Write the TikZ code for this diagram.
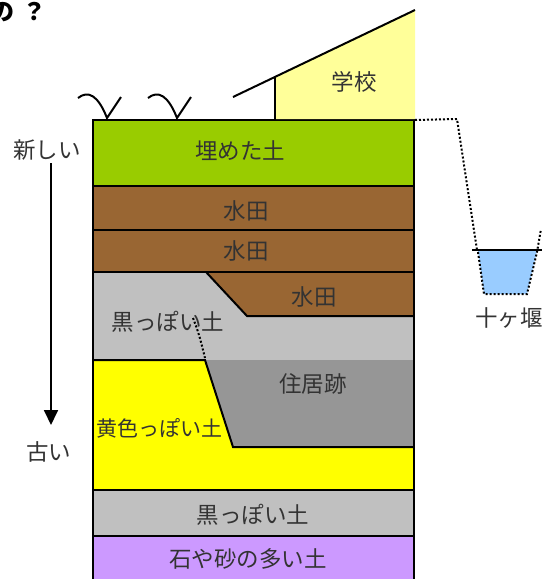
\documentclass[tikz,border=0pt]{standalone}
\usepackage{fontspec}
\newfontfamily\jpfont{Noto Sans CJK JP}
\usetikzlibrary{arrows.meta}
\definecolor{soilgreen}{HTML}{99CC00}
\definecolor{paddy}{HTML}{996633}
\definecolor{darksoil}{HTML}{C0C0C0}
\definecolor{ruin}{HTML}{969696}
\definecolor{loam}{HTML}{FFFF00}
\definecolor{gravel}{HTML}{CC99FF}
\definecolor{school}{HTML}{FFFF99}
\definecolor{pond}{HTML}{99CCFF}
\tikzset{
  lab/.style={font=\jpfont\fontsize{22.5}{24}\selectfont, text=black!80, inner sep=0pt},
  bnd/.style={line width=2pt, line join=miter},
  edge/.style={line width=2.6pt},
  dots/.style={line width=2pt, dotted, line cap=butt},
  arr/.style={-{Triangle[length=15pt,width=14pt]}, line width=1.8pt},
}
\begin{document}
\begin{tikzpicture}[x=1pt, y=-1pt]
  \useasboundingbox (0,0) rectangle (549,579);
  % layers, top to bottom
  \fill[soilgreen] (93,120) rectangle (414,186);
  \fill[paddy] (93,186) rectangle (414,272);
  \fill[darksoil] (93,272) rectangle (414,360);
  \fill[paddy] (206,272) -- (247,316) -- (414,316) -- (414,272) -- cycle;
  \fill[ruin] (205,360) -- (414,360) -- (414,447) -- (233,447) -- cycle;
  \fill[loam] (93,360) -- (205,360) -- (233,447) -- (414,447) -- (414,490) -- (93,490) -- cycle;
  \fill[darksoil] (93,490) rectangle (414,536);
  \fill[gravel] (93,536) rectangle (414,585);
  % boundaries
  \draw[bnd] (93,186) -- (414,186);
  \draw[bnd] (93,230) -- (414,230);
  \draw[bnd] (93,272) -- (414,272);
  \draw[bnd] (206,272) -- (247,316) -- (414,316);
  \draw[bnd] (93,360) -- (205,360) -- (233,447) -- (414,447);
  \draw[bnd] (93,490) -- (414,490);
  \draw[bnd] (93,536) -- (414,536);
  \draw[dots] (193,318) .. controls (199,334) .. (205,358);
  \draw[edge] (93,585) -- (93,120) -- (414,120) -- (414,585);
  % school building
  \fill[school] (275,77) -- (415,10) -- (415,119) -- (275,119) -- cycle;
  \draw[line width=2pt] (233,97) -- (415,10);
  \draw[line width=2pt] (275,77) -- (275,120);
  % grass
  \foreach \gx in {0,70}
    \draw[line width=2pt, xshift=\gx] (78,98) .. controls (88,90) and (98,95) .. (107,118) -- (121,97);
  % ditch
  \fill[pond] (478,251) -- (537,251) -- (527,294) -- (484,294) -- cycle;
  \draw[dots] (415,120) -- (457,119) -- (477,250);
  \draw[dots] (478,252) -- (484,294) -- (527,294) -- (537,252) -- (541,229);
  \draw[line width=2pt] (472,250) -- (542,250);
  % time arrow
  \node[lab] (new) at (47,150) {新しい};
  \node[lab] (old) at (49,452) {古い};
  \draw[arr] (51,163) -- (51,425);
  % labels
  \node[lab] (fill) at (240,151) {埋めた土};
  \node[lab] (pa) at (246,211) {水田};
  \node[lab] (pb) at (246,251) {水田};
  \node[lab] (pc) at (314,297) {水田};
  \node[lab] (ds) at (168,322) {黒っぽい土};
  \node[lab] (ru) at (313,384) {住居跡};
  \node[lab, font=\jpfont\fontsize{21}{24}\selectfont] (yl) at (159,428) {黄色っぽい土};
  \node[lab] (db) at (253,515) {黒っぽい土};
  \node[lab] (gr) at (248,559) {石や砂の多い土};
  \node[lab] (sc) at (354,82) {学校};
  \node[lab] (di) at (509,318) {十ヶ堰};
  \node[font=\jpfont\bfseries\fontsize{24}{26}\selectfont, anchor=east, inner sep=0pt] (ttl) at (47,12) {の\hspace{8pt}？};
\end{tikzpicture}
\end{document}
